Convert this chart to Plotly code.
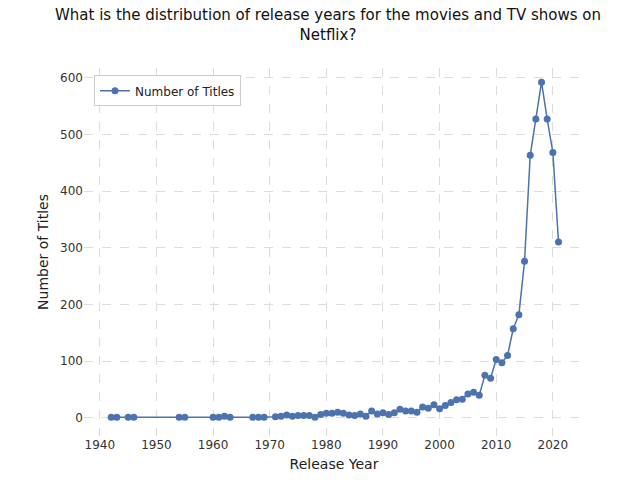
import plotly.graph_objects as go

years = [1942, 1943, 1945, 1946, 1954, 1955, 1960, 1961, 1962, 1963, 1967, 1968, 1969,
         1971, 1972, 1973, 1974, 1975, 1976, 1977, 1978, 1979, 1980, 1981, 1982, 1983,
         1984, 1985, 1986, 1987, 1988, 1989, 1990, 1991, 1992, 1993, 1994, 1995, 1996,
         1997, 1998, 1999, 2000, 2001, 2002, 2003, 2004, 2005, 2006, 2007, 2008, 2009,
         2010, 2011, 2012, 2013, 2014, 2015, 2016, 2017, 2018, 2019, 2020, 2021]
counts = [1, 1, 1, 1, 1, 1, 1, 1, 3, 1, 1, 1, 1,
          2, 3, 5, 3, 4, 4, 4, 1, 6, 8, 8, 10, 8,
          5, 4, 7, 3, 12, 7, 9, 6, 9, 15, 12, 12, 10,
          19, 17, 23, 16, 22, 27, 32, 33, 42, 45, 40, 75, 70,
          103, 97, 110, 157, 182, 276, 463, 527, 592, 527, 468, 310]

line_color = "#4c72b0"

fig = go.Figure()
fig.add_trace(go.Scatter(x=years, y=counts, mode="lines+markers", name="Number of Titles",
                         line=dict(color=line_color, width=1.5),
                         marker=dict(color=line_color, size=7)))

grid = dict(showgrid=True, gridcolor="#dcdcdc", griddash="dash", gridwidth=1,
            zeroline=False, showline=False, ticks="", automargin=False,
            tickfont=dict(size=12, color="#333"))

fig.update_layout(
    width=640, height=480,
    paper_bgcolor="white", plot_bgcolor="white",
    font=dict(family="DejaVu Sans", size=12, color="#222"),
    title=dict(text="What is the distribution of release years for the movies and TV shows on<br>Netflix?",
               x=0.5, xanchor="center", y=0.975, yanchor="top", font=dict(size=15, color="#111")),
    margin=dict(l=76, r=64, t=60, b=52),
    showlegend=True,
    legend=dict(x=0.02, y=0.98, xanchor="left", yanchor="top", bgcolor="white",
                bordercolor="#cccccc", borderwidth=1, font=dict(size=12)),
    xaxis=dict(title=dict(text="Release Year", font=dict(size=14), standoff=8), range=[1937.2, 2025.5],
               tickvals=[1940, 1950, 1960, 1970, 1980, 1990, 2000, 2010, 2020], **grid),
    yaxis=dict(title=dict(text="Number of Titles", font=dict(size=14), standoff=8), range=[-32, 617],
               tickvals=[0, 100, 200, 300, 400, 500, 600], **grid),
)

fig.write_html("out.html")
